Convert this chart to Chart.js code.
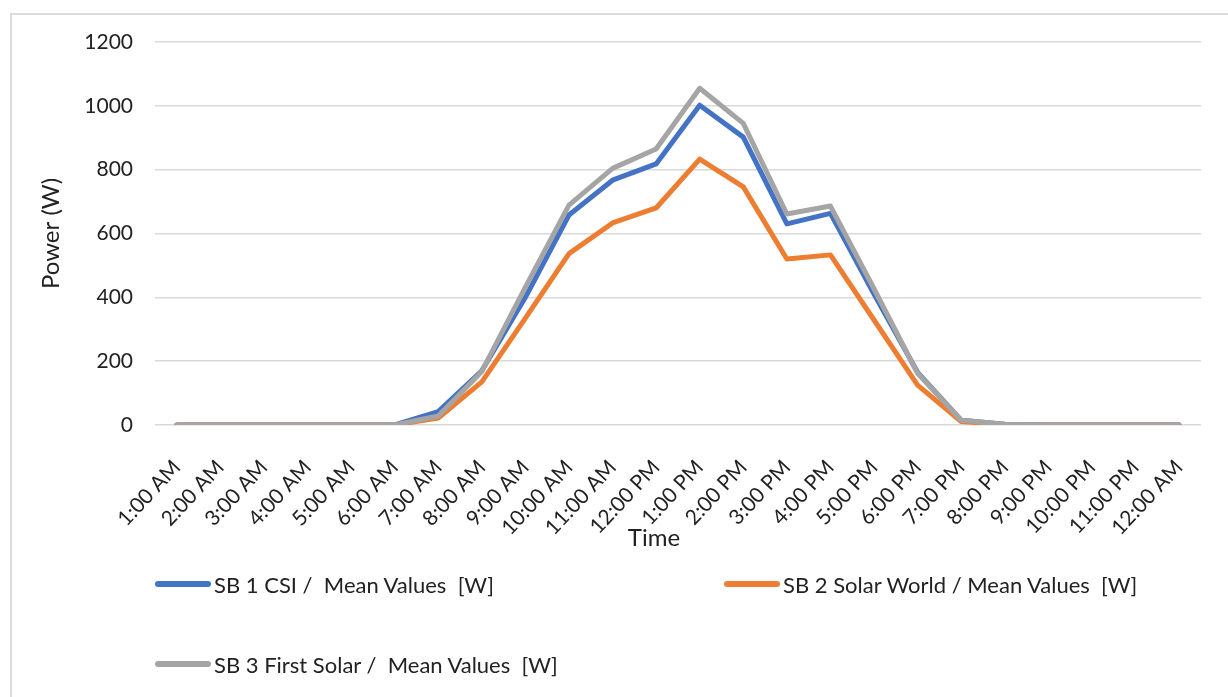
<!DOCTYPE html>
<html>
<head>
<meta charset="utf-8">
<script src="https://cdn.jsdelivr.net/npm/chart.js@4/dist/chart.umd.min.js"></script>
<style>
  html, body { margin: 0; padding: 0; background: #fff; }
  #wrap { position: relative; width: 1228px; height: 697px; overflow: hidden; }
  #frame { position: absolute; left: 10px; top: 13px; right: -4px; bottom: -4px;
           border: 2px solid #DCDCDC; box-sizing: border-box; }
  canvas { position: absolute; left: 0; top: 0; }
  .lg { position: absolute; display: flex; align-items: center; font-family: Lato, sans-serif;
        font-size: 22px; color: #222; white-space: pre; }
  .lg .sw { width: 56px; height: 6px; border-radius: 3px; margin-right: 3px; }
  #xTitle { position: absolute; left: 554px; width: 200px; top: 522px; height: 30px; line-height: 30px;
            text-align: center; font-family: Lato, sans-serif; font-size: 24px; color: #222; }
</style>
</head>
<body>
<div id="wrap">
  <div id="frame"></div>
  <canvas id="c" width="1228" height="697"></canvas>
  <div id="xTitle">Time</div>
  <div id="legend"></div>
</div>
<script>
// Hourly mean power of the three solar panels
const hours = ['1:00 AM','2:00 AM','3:00 AM','4:00 AM','5:00 AM','6:00 AM','7:00 AM','8:00 AM',
  '9:00 AM','10:00 AM','11:00 AM','12:00 PM','1:00 PM','2:00 PM','3:00 PM','4:00 PM','5:00 PM',
  '6:00 PM','7:00 PM','8:00 PM','9:00 PM','10:00 PM','11:00 PM','12:00 AM'];

const sb1Csi = [0, 0, 0, 0, 0, 0, 42, 170, 400, 658, 767, 818, 1002, 902, 630, 663, 410, 165, 15, 2, 0, 0, 0, 0];
const sb2SolarWorld = [0, 0, 0, 0, 0, 0, 22, 135, 335, 537, 633, 680, 833, 746, 520, 533, 329, 125, 11, 1, 0, 0, 0, 0];
const sb3FirstSolar = [0, 0, 0, 0, 0, 0, 28, 168, 432, 689, 804, 865, 1055, 945, 661, 686, 427, 162, 15, 2, 0, 0, 0, 0];

const seriesNames = ['SB 1 CSI /  Mean Values  [W]', 'SB 2 Solar World / Mean Values  [W]', 'SB 3 First Solar /  Mean Values  [W]'];
const seriesColors = ['#4472C4', '#ED7D31', '#A5A5A5'];
const yTicks = [0, 200, 400, 600, 800, 1000, 1200];

const textColor = '#222222';
const family = 'Lato, sans-serif';

function series(i, values, order) {
  return {
    label: seriesNames[i],
    data: values,
    borderColor: seriesColors[i],
    backgroundColor: seriesColors[i],
    borderWidth: 5,
    borderJoinStyle: 'round',
    borderCapStyle: 'round',
    pointRadius: 0,
    pointHoverRadius: 0,
    tension: 0,
    fill: false,
    order: order
  };
}

const chart = new Chart(document.getElementById('c'), {
  type: 'line',
  data: {
    labels: hours,
    datasets: [series(0, sb1Csi, 3), series(1, sb2SolarWorld, 2), series(2, sb3FirstSolar, 1)]
  },
  options: {
    responsive: false,
    animation: false,
    devicePixelRatio: 1,
    layout: { padding: { left: 10, top: 42, right: 25, bottom: 142 } },
    plugins: { legend: { display: false }, tooltip: { enabled: false } },
    scales: {
      x: {
        type: 'category',
        offset: true,
        grid: { display: false, drawTicks: false },
        border: { display: false },
        ticks: { minRotation: 47, maxRotation: 47, autoSkip: false, padding: 30,
                 color: textColor, font: { family: family, size: 21 } },
        afterFit: (s) => { s.height = 130; }
      },
      y: {
        min: 0,
        max: 1200,
        afterBuildTicks: (s) => { s.ticks = yTicks.map(v => ({ value: v })); },
        grid: { color: '#D9D9D9', lineWidth: 1.5, drawTicks: false },
        border: { display: false },
        ticks: { padding: 22, color: textColor, font: { family: family, size: 21 },
                 callback: (v) => String(v) },
        title: { display: true, text: 'Power (W)', color: textColor,
                 font: { family: family, size: 24 }, padding: { top: 27, bottom: 0 } },
        afterFit: (s) => { s.width = 145; }
      }
    }
  }
});

// Legend built from the chart's datasets, two columns
const legendSlots = [{ left: 155, top: 584 }, { left: 724, top: 584 }, { left: 155, top: 664 }];
const legendEl = document.getElementById('legend');
chart.data.datasets.forEach((ds, i) => {
  const item = document.createElement('div');
  item.className = 'lg';
  item.style.left = legendSlots[i].left + 'px';
  item.style.top = (legendSlots[i].top - 14) + 'px';
  item.style.height = '28px';
  const sw = document.createElement('span');
  sw.className = 'sw';
  sw.style.background = ds.borderColor;
  const tx = document.createElement('span');
  tx.textContent = ds.label;
  item.appendChild(sw);
  item.appendChild(tx);
  legendEl.appendChild(item);
});
</script>
</body>
</html>
